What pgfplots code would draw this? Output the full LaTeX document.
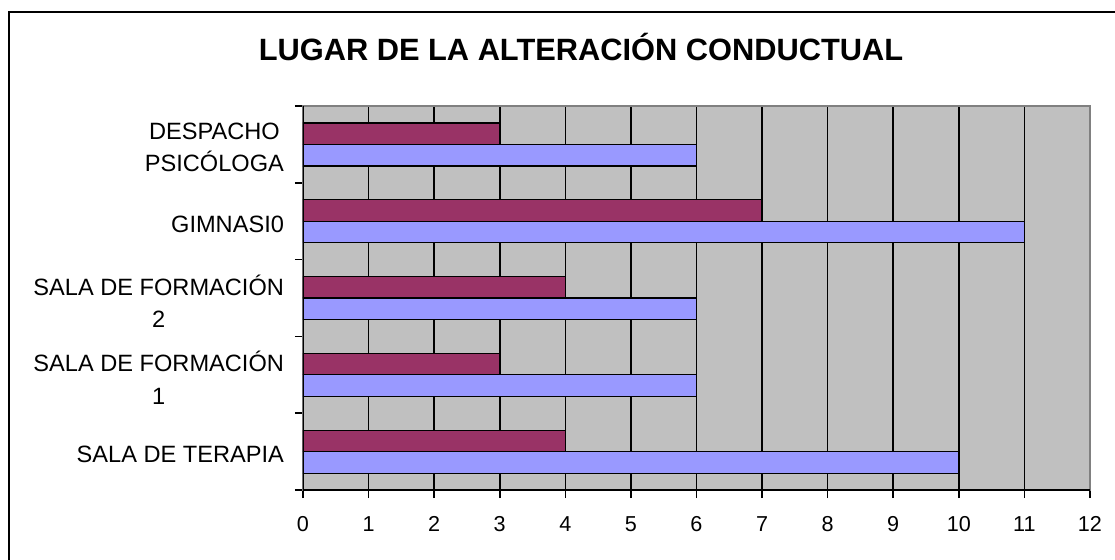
\documentclass[border=0pt]{standalone}
\usepackage{pgfplots}
\pgfplotsset{compat=1.18}
\usepackage{fontspec}
\setmainfont{Liberation Sans}
\definecolor{barA}{HTML}{993366}
\definecolor{barB}{HTML}{9999FF}
\definecolor{plotbg}{HTML}{C0C0C0}
\definecolor{frameg}{HTML}{808080}
\begin{document}
\begin{tikzpicture}
\useasboundingbox (0,0) rectangle (557.5pt,279.5pt);
\draw[line width=1pt] (4.5pt,-20pt) -- (4.5pt,273.5pt) -- (600pt,273.5pt);
\node[anchor=base, font=\bfseries\fontsize{15.4}{18}\selectfont] at (290.5pt,249.5pt) {LUGAR DE LA ALTERACIÓN CONDUCTUAL};
\begin{axis}[
  at={(151.5pt,34.5pt)}, anchor=south west,
  scale only axis, width=393.5pt, height=192pt,
  xmin=0, xmax=12, ymin=-0.5, ymax=4.5,
  xtick={0,...,12},
  axis background/.style={fill=plotbg},
  axis line style={draw=frameg, line width=0.8pt},
  xmajorgrids, grid style={black, line width=0.8pt},
  tick align=outside, tick pos=left,
  major tick length=4pt,
  tick style={black, line width=0.8pt},
  /pgf/number format/assume math mode=true,
  xticklabel style={font=\fontsize{10.8}{12}\selectfont, text height=7.8pt, text depth=0pt, yshift=-5.5pt},
  ytick={-0.5,0.5,1.5,2.5,3.5,4.5},
  yticklabels={,,,,,},
  extra y ticks={0,1,2,3,4},
  extra y tick labels={SALA DE TERAPIA,{SALA DE FORMACIÓN\\1},{SALA DE FORMACIÓN\\2},GIMNASI0,{DESPACHO\\PSICÓLOGA}},
  extra y tick style={major tick length=0pt, yticklabel style={align=center, font=\fontsize{11.8}{16.2}\selectfont, xshift=-6pt, yshift=-1.5pt}},
  xbar, bar width=10.75pt,
]
\addplot[fill=barA, draw=black, line width=0.6pt, bar shift=5.375pt] coordinates {(4,0) (3,1) (4,2) (7,3) (3,4)};
\addplot[fill=barB, draw=black, line width=0.6pt, bar shift=-5.375pt] coordinates {(10,0) (6,1) (6,2) (11,3) (6,4)};
\draw[black, line width=0.8pt] (rel axis cs:0,1) -- (rel axis cs:0,0) -- (rel axis cs:1,0);
\end{axis}
\end{tikzpicture}
\end{document}
